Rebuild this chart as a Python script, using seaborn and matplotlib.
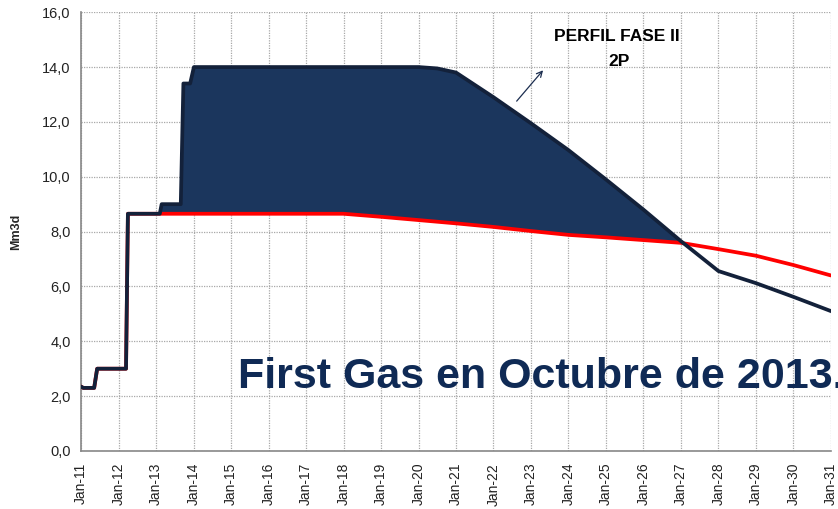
import numpy as np
import pandas as pd
import matplotlib
matplotlib.use("Agg")
import matplotlib.pyplot as plt
import seaborn as sns

# Perfil 2P (fase II), años decimales
years_2p = [2011.0, 2011.06, 2011.35, 2011.43, 2012.2, 2012.25, 2013.1, 2013.15,
            2013.66, 2013.73, 2013.91, 2014.01, 2020.0, 2020.5, 2021.0, 2022.0,
            2023.0, 2024.0, 2025.0, 2026.0, 2027.0, 2028.0, 2029.0, 2030.0, 2031.0]
values_2p = [2.35, 2.3, 2.3, 3.0, 3.0, 8.65, 8.65, 9.0,
             9.0, 13.4, 13.4, 14.0, 14.0, 13.95, 13.8, 12.9,
             11.95, 10.97, 9.9, 8.8, 7.65, 6.56, 6.12, 5.62, 5.1]

# Perfil base (rojo)
years_base = [2011.0, 2011.06, 2011.35, 2011.43, 2012.2, 2012.25, 2018.0, 2019.0,
              2020.0, 2021.0, 2022.0, 2023.0, 2024.0, 2025.0, 2026.0, 2027.0,
              2028.0, 2029.0, 2030.0, 2031.0]
values_base = [2.35, 2.3, 2.3, 3.0, 3.0, 8.65, 8.65, 8.54,
               8.42, 8.3, 8.17, 8.02, 7.88, 7.79, 7.69, 7.59,
               7.36, 7.12, 6.78, 6.4]

tick_years = list(range(2011, 2032))
tick_labels = [f"Jan-{y % 100:02d}" for y in tick_years]

df_2p = pd.DataFrame({"year": years_2p, "value": values_2p})
df_base = pd.DataFrame({"year": years_base, "value": values_base})

sns.set_style("white")
plt.rcParams["font.family"] = ["Liberation Sans", "DejaVu Sans"]

fig, ax = plt.subplots(figsize=(8.38, 5.09), dpi=100)
fig.subplots_adjust(left=0.0967, right=0.9916, bottom=0.114, top=0.976)

navy = "#1b365d"
edge = "#13213a"

# shaded area between the two profiles where 2P is above base
grid_x = np.linspace(2013.0, 2028.0, 2000)
y2 = np.interp(grid_x, years_2p, values_2p)
yb = np.interp(grid_x, years_base, values_base)
ax.fill_between(grid_x, yb, y2, where=y2 >= yb, color=navy, linewidth=0,
                interpolate=True, zorder=2)

sns.lineplot(data=df_base, x="year", y="value", sort=False, color="#ff0000",
             linewidth=2.7, ax=ax, zorder=3)
sns.lineplot(data=df_2p, x="year", y="value", sort=False, color=edge,
             linewidth=2.7, ax=ax, zorder=4)

ax.set_xlim(2011, 2031)
ax.set_ylim(0, 16)
ax.set_yticks(np.arange(0, 16.1, 2))
ax.set_yticklabels([f"{v:.1f}".replace(".", ",") for v in np.arange(0, 16.1, 2)],
                   fontsize=10.5, color="#222222")
ax.set_xticks(tick_years)
ax.set_xticklabels(tick_labels, rotation=90, fontsize=10, color="#222222")
ax.tick_params(axis="x", direction="out", length=5, color="#888888", width=1)
ax.tick_params(axis="y", direction="out", length=4, color="#888888", width=1)

ax.grid(True, linestyle=(0, (1, 1)), color="#a8a8a8", linewidth=0.9)
ax.set_axisbelow(True)
for side in ["top", "right"]:
    ax.spines[side].set_visible(False)
for side in ["left", "bottom"]:
    ax.spines[side].set_color("#888888")
    ax.spines[side].set_linewidth(1.2)

ax.set_xlabel("")
ax.set_ylabel("Mm3d", fontsize=9, fontweight="bold", labelpad=14)

ax.text(2025.3, 15.1, "PERFIL FASE II", ha="center", va="center",
        fontsize=12.5, fontweight="bold", color="black")
ax.text(2025.35, 14.2, "2P", ha="center", va="center",
        fontsize=12.5, fontweight="bold", color="black")
ax.annotate("", xy=(2023.37, 13.96), xytext=(2022.57, 12.68),
            arrowprops=dict(arrowstyle="->", color="#1b2d4f", lw=0.9))

ax.text(2015.19, 2.3, "First Gas en Octubre de 2013.", ha="left",
        va="baseline", fontsize=31, fontweight="bold", color="#0f2a55",
        clip_on=False, zorder=6)

fig.savefig("out.png", dpi=100)
